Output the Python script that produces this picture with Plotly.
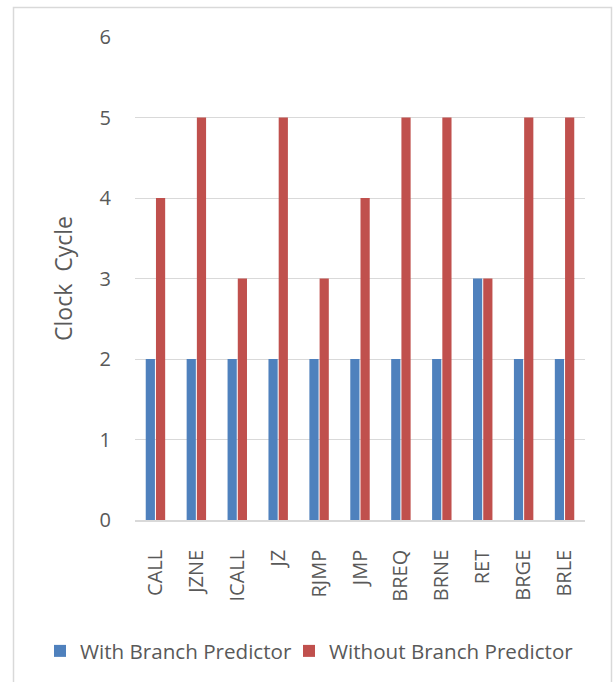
import plotly.graph_objects as go

instructions = ["CALL", "JZNE", "ICALL", "JZ", "RJMP", "JMP", "BREQ", "BRNE", "RET", "BRGE", "BRLE"]
with_predictor = [2, 2, 2, 2, 2, 2, 2, 2, 3, 2, 2]
without_predictor = [4, 5, 3, 5, 3, 4, 5, 5, 3, 5, 5]
y_ticks = [0, 1, 2, 3, 4, 5, 6]

W, H = 616, 682
ML, MR, MT, MB = 20, 20, 37, 162
PW, PH = W - ML - MR, H - MT - MB
AX_L, AX_R = 135, 585  # pixel extent of the category axis

text_color = "#595959"
font_family = "Open Sans, Noto Sans, sans-serif"

fig = go.Figure()
fig.add_trace(go.Bar(name="With Branch Predictor", x=instructions, y=with_predictor,
                     marker=dict(color="#4F81BD", line=dict(width=0)), legend="legend"))
fig.add_trace(go.Bar(name="Without Branch Predictor", x=instructions, y=without_predictor,
                     marker=dict(color="#C0504D", line=dict(width=0)), legend="legend2"))

# outer chart frame, positioned in pixels relative to the paper area
def px_x(v):
    return (v - ML) / PW

def px_y(v):
    return (H - MB - v) / PH

fig.add_shape(type="rect", xref="paper", yref="paper",
              x0=px_x(13.5), x1=px_x(611.5), y0=px_y(700), y1=px_y(7.5),
              line=dict(color="#d9d9d9", width=1.5), fillcolor="rgba(0,0,0,0)", layer="below")

legend_common = dict(orientation="h", xref="container", yref="container",
                     xanchor="left", y=1 - 651 / H, yanchor="middle",
                     bgcolor="rgba(0,0,0,0)",
                     font=dict(size=20.6, color=text_color), itemwidth=30)

fig.update_layout(
    width=W, height=H,
    margin=dict(l=ML, r=MR, t=MT, b=MB),
    paper_bgcolor="white", plot_bgcolor="white",
    barmode="group", bargap=0.5, bargroupgap=0.1,
    font=dict(family=font_family, color=text_color),
    showlegend=True,
    legend=dict(x=40 / W, **legend_common),
    legend2=dict(x=289 / W, **legend_common),
    xaxis=dict(domain=[px_x(AX_L), px_x(AX_R)],
               tickangle=-90, tickfont=dict(size=20, color=text_color), showgrid=False,
               showline=True, linecolor="#d9d9d9", linewidth=1.5,
               ticks="outside", ticklen=20, tickcolor="rgba(0,0,0,0)"),
    yaxis=dict(range=[0, 6], tickvals=y_ticks, tickfont=dict(size=20, color=text_color),
               showgrid=True, gridcolor="#d9d9d9", gridwidth=1.2, zeroline=False,
               ticks="outside", ticklen=19, tickcolor="rgba(0,0,0,0)",
               title=dict(text="Clock  Cycle", font=dict(size=23, color=text_color), standoff=20)),
)

fig.write_html("out.html")
